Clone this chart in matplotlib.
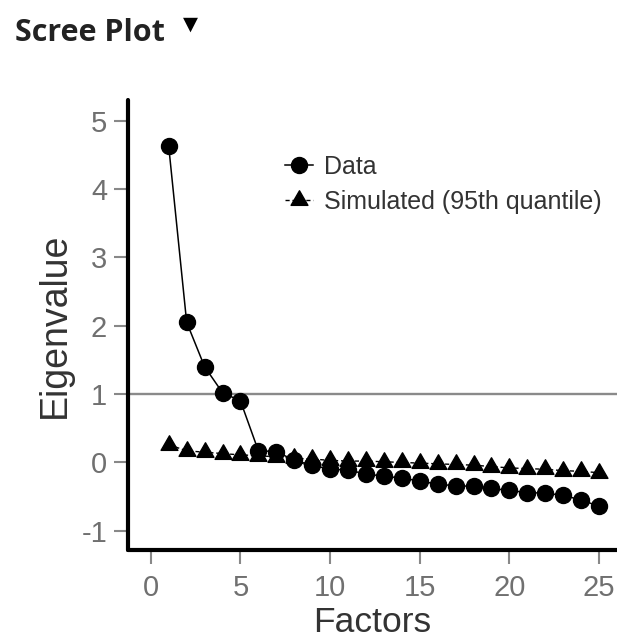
import matplotlib.pyplot as plt
from matplotlib.path import Path
import numpy as np

# eigenvalues
factors = np.arange(1, 26)
data_eigen = [4.62, 2.05, 1.40, 1.02, 0.90, 0.17, 0.16, 0.03, -0.04, -0.10,
              -0.11, -0.17, -0.20, -0.23, -0.27, -0.32, -0.34, -0.35, -0.38, -0.41,
              -0.44, -0.45, -0.48, -0.55, -0.64]
sim_eigen = [0.26, 0.17, 0.15, 0.13, 0.11, 0.10, 0.08, 0.06, 0.05, 0.03,
             0.02, 0.02, 0.01, 0.00, -0.01, -0.02, -0.03, -0.04, -0.06, -0.08,
             -0.09, -0.10, -0.12, -0.13, -0.15]
x_ticks = [0, 5, 10, 15, 20, 25]
y_ticks = [-1, 0, 1, 2, 3, 4, 5]

plt.rcParams['font.family'] = ['Liberation Sans', 'DejaVu Sans']
plt.rcParams['axes.unicode_minus'] = False

# triangle centred on its centroid, like R's pch 17
tri = Path([(0, 1), (-0.866, -0.5), (0.866, -0.5), (0, 1)],
           [Path.MOVETO, Path.LINETO, Path.LINETO, Path.CLOSEPOLY])

fig = plt.figure(figsize=(6.17, 6.41), dpi=100)
ax = fig.add_axes([0.2075, 0.142, 0.7925, 0.702])

ax.axhline(1, color='#8a8a8a', lw=1.7, zorder=1)
ax.plot(factors, sim_eigen, color='black', lw=1, ls=(0, (3, 2)),
        marker=tri, ms=14, zorder=2, label='Simulated (95th quantile)')
ax.plot(factors, data_eigen, color='black', lw=1.1, marker='o', ms=11.5,
        zorder=3, label='Data')

ax.set_xlim(-1.27, 26.0)
ax.set_ylim(-1.28, 5.30)
ax.set_xticks(x_ticks)
ax.set_yticks(y_ticks)

for s in ['top', 'right']:
    ax.spines[s].set_visible(False)
for s in ['left', 'bottom']:
    ax.spines[s].set_linewidth(3)
    ax.spines[s].set_color('black')
    ax.spines[s].set_capstyle('round')

ax.tick_params(axis='both', direction='out', length=10, width=1.5,
               color='#888888', labelcolor='#707070', labelsize=21)
ax.tick_params(axis='x', pad=7)
ax.tick_params(axis='y', pad=5)
ax.set_xlabel('Factors', fontsize=25.5, color='#333333', labelpad=3)
ax.set_ylabel('Eigenvalue', fontsize=27, color='#333333', labelpad=6)

h, l = ax.get_legend_handles_labels()
ax.legend(h[::-1], l[::-1], loc='upper left', bbox_to_anchor=(0.462, 0.758),
          bbox_transform=fig.transFigure, frameon=False, fontsize=18,
          handlelength=1.1, handletextpad=0.45, labelspacing=0.42,
          borderpad=0, borderaxespad=0, labelcolor='#333333')

fig.text(0.024, 0.936, 'Scree Plot', fontsize=22, fontweight='bold',
         family=['Open Sans', 'DejaVu Sans'], color='#222222', va='baseline')
fig.text(0.309, 0.962, '▼', fontsize=14, family='DejaVu Sans',
         color='black', ha='center', va='center')

fig.savefig('out.png', dpi=100)
